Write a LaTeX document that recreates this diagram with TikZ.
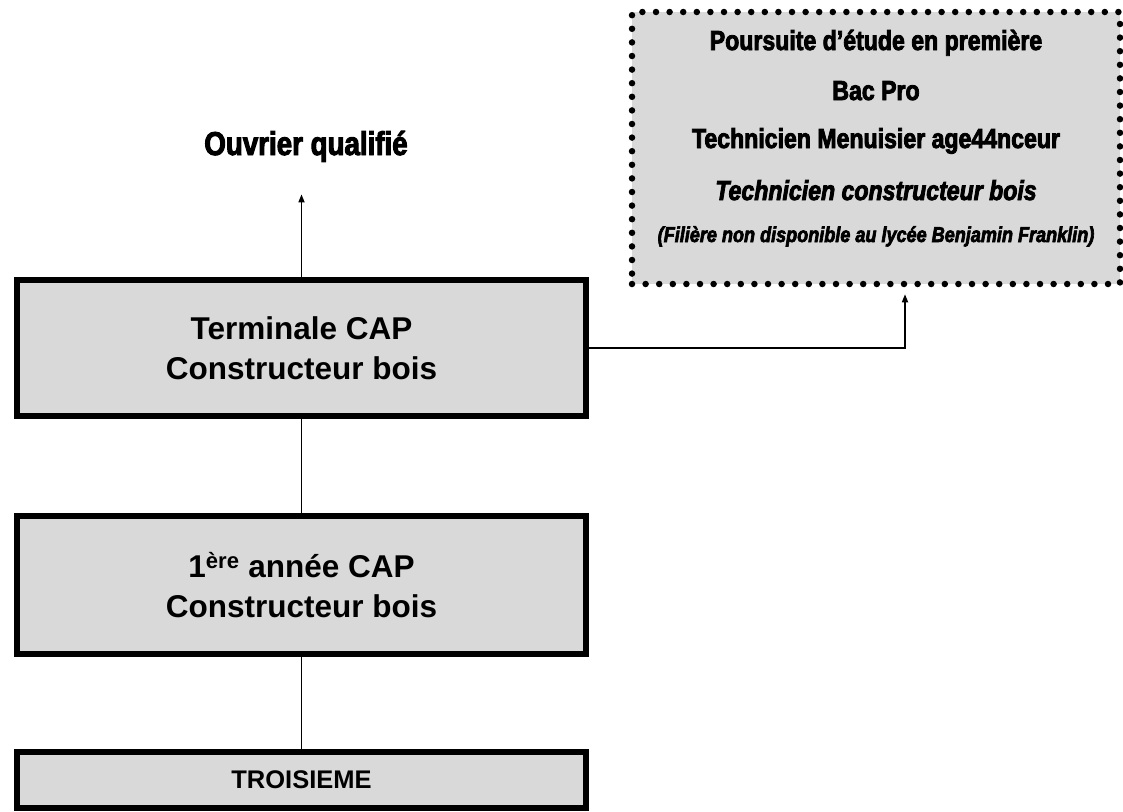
\documentclass[tikz,border=0pt]{standalone}
\usepackage{fontspec}
\setmainfont{Liberation Sans}
\newfontfamily\affiche[FakeStretch=0.84,FakeBold=3]{Liberation Sans}
\usetikzlibrary{arrows.meta}
\definecolor{grisfond}{HTML}{D9D9D9}
\newcommand\titrebox{\affiche\bfseries\fontsize{27.5}{30}\selectfont}
\tikzset{
  boite/.style={draw=black, fill=grisfond, line width=6pt, minimum width=569pt, align=center,
    font=\bfseries\fontsize{31.5}{40}\selectfont},
  pointille/.style={draw=black, fill=grisfond, line width=6.5pt, line cap=round,
    dash pattern=on 0pt off 13.6pt, minimum width=488pt, minimum height=272pt},
  trait/.style={line width=1.6pt},
  fleche/.style={trait, -{Triangle[length=8pt,width=6pt]}}
}
\begin{document}
\begin{tikzpicture}[x=1pt,y=-1pt]
\useasboundingbox (0,0) rectangle (1123,811);
% colonne CAP
\node[boite, minimum height=136pt] (term) at (301.5,348) {Terminale CAP\\Constructeur bois};
\node[boite, minimum height=138pt] (annee) at (301.5,585) {1\textsuperscript{ère} année CAP\\Constructeur bois};
\node[boite, minimum height=56pt, font=\bfseries\fontsize{25.5}{30}\selectfont] (troisieme) at (301.5,780) {TROISIEME};
\node[anchor=base, font=\affiche\bfseries\fontsize{33}{36}\selectfont] (ouvrier) at (306,155) {Ouvrier qualifié};
% poursuite d'etude
\node[pointille] (poursuite) at (876,148) {};
\foreach \n/\base/\texte in {1/50/{\titrebox Poursuite d’étude en première},
    2/100/{\titrebox Bac Pro},
    3/148/{\titrebox Technicien Menuisier age44nceur},
    4/200/{\titrebox\itshape Technicien constructeur bois},
    5/242/{\affiche\bfseries\itshape\fontsize{21.5}{24}\selectfont (Filière non disponible au lycée Benjamin Franklin)}}
  \node[anchor=base] (ligne\n) at (876,\base) {\texte};
% liaisons
\draw[trait] (term.south) -- (annee.north);
\draw[trait] (annee.south) -- (troisieme.north);
\draw[fleche, shorten >=29pt] (term.north) -- (term.north |- ouvrier.south);
\draw[fleche, shorten >=7pt] (term.east) -| ([xshift=29pt]poursuite.south);
\end{tikzpicture}
\end{document}
